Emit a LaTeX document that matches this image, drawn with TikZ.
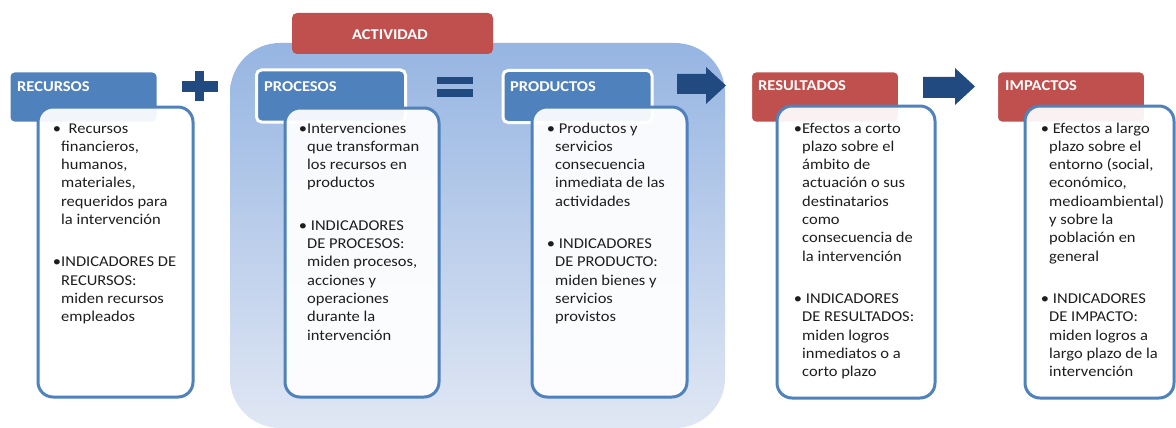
\documentclass[tikz,border=0pt]{standalone}
\usepackage{fontspec}
\setmainfont{Carlito}[FakeStretch=1.1]
\usetikzlibrary{calc}
\definecolor{hblue}{RGB}{79,129,189}
\definecolor{hred}{RGB}{192,80,77}
\definecolor{dblue}{RGB}{33,74,128}
\definecolor{bgtop}{RGB}{150,181,226}
\definecolor{bgbot}{RGB}{224,231,244}
\definecolor{txt}{RGB}{30,30,30}
\newcommand\bl{\leavevmode\llap{\textbullet}}
\tikzset{
  hdr/.style={draw=white, line width=3pt, rounded corners=5pt, minimum width=149pt, minimum height=52pt, inner sep=0pt},
  hblue/.style={hdr, fill=hblue},
  hred/.style={hdr, fill=hred},
  hlabel/.style={anchor=base west, inner sep=0pt, text=white, font=\fontsize{15}{18}\selectfont\bfseries},
  bodybox/.style={draw=hblue, line width=3pt, rounded corners=15pt, fill=white, fill opacity=0.93, inner sep=0pt},
  bodytext/.style={anchor=base west, inner sep=0pt, text=txt, font=\fontsize{15}{18.3}\selectfont},
  sym/.style={fill=dblue, draw=none}
}
\begin{document}
\begin{tikzpicture}[x=1pt,y=-1pt]
\useasboundingbox (0,0) rectangle (1176,428);
% actividad background
\node[shade, top color=bgtop, bottom color=bgbot, rounded corners=50pt, minimum width=495pt, minimum height=385pt, inner sep=0pt] (actbg) at (477.5,235.5) {};
\node[fill=hred, rounded corners=5pt, minimum width=201pt, minimum height=41pt, inner sep=0pt] (act) at (392.5,33.5) {};
\node[hlabel, anchor=base] (actl) at (390,39.5) {ACTIVIDAD};
% headers
\node[hblue] (h1) at (83.5,97) {};
\node[hblue] (h2) at (331,96) {};
\node[hblue] (h3) at (577.5,96.5) {};
\node[hred] (h4) at (825,97) {};
\node[hred] (h5) at (1071,97) {};
\node[hlabel] (l1) at (17,92) {RECURSOS};
\node[hlabel] (l2) at (264,92) {PROCESOS};
\node[hlabel] (l3) at (510,92) {PRODUCTOS};
\node[hlabel] (l4) at (758,91) {RESULTADOS};
\node[hlabel] (l5) at (1005,91) {IMPACTOS};
% bodies
\node[bodybox, minimum width=155pt, minimum height=290pt] (b1) at (115.5,252) {};
\node[bodybox, minimum width=154pt, minimum height=289pt] (b2) at (362,252.5) {};
\node[bodybox, minimum width=155pt, minimum height=290pt] (b3) at (609.5,252) {};
\node[bodybox, minimum width=158pt, minimum height=292pt] (b4) at (856,252) {};
\node[bodybox, minimum width=149pt, minimum height=292pt] (b5) at (1099.5,252) {};
% symbols
\fill[sym] (182,81) rectangle (218,92);
\fill[sym] (195,71) rectangle (204,101);
\fill[sym] (437,77) rectangle (473,84);
\fill[sym] (437,89) rectangle (473,97);
\fill[sym] (677,74) -- (706,74) -- (706,67) -- (726,85.5) -- (706,104) -- (706,94) -- (677,94) -- cycle;
\fill[sym] (923,77) -- (955,77) -- (955,68) -- (975,86.5) -- (955,105) -- (955,98) -- (923,98) -- cycle;
% texts
\node[bodytext] (t1) at (61,133) {\parbox[t]{130pt}{\raggedright
\bl\ \ Recursos\\ financieros,\\ humanos,\\ materiales,\\ requeridos para\\ la intervención\\[24pt]
\bl INDICADORES DE\\ RECURSOS:\\ miden recursos\\ empleados}};
\node[bodytext] (t2) at (307,133) {\parbox[t]{130pt}{\raggedright
\bl Intervenciones\\ que transforman\\ los recursos en\\ productos\\[24pt]
\bl\ INDICADORES\\ DE PROCESOS:\\ miden procesos,\\ acciones y\\ operaciones\\ durante la\\ intervención}};
\node[bodytext] (t3) at (555,133) {\parbox[t]{130pt}{\raggedright
\bl\ Productos y\\ servicios\\ consecuencia\\ inmediata de las\\ actividades\\[24pt]
\bl\ INDICADORES\\ DE PRODUCTO:\\ miden bienes y\\ servicios\\ provistos}};
\node[bodytext] (t4) at (802,133) {\parbox[t]{130pt}{\raggedright
\bl Efectos a corto\\ plazo sobre el\\ ámbito de\\ actuación o sus\\ destinatarios\\ como\\ consecuencia de\\ la intervención\\[24pt]
\bl\ INDICADORES\\ DE RESULTADOS:\\ miden logros\\ inmediatos o a\\ corto plazo}};
\node[bodytext] (t5) at (1049,133) {\parbox[t]{125pt}{\raggedright
\bl\ Efectos a largo\\ plazo sobre el\\ entorno (social,\\ económico,\\ medioambiental)\\ y sobre la\\ población en\\ general\\[24pt]
\bl\ INDICADORES\\ DE IMPACTO:\\ miden logros a\\ largo plazo de la\\ intervención}};
\end{tikzpicture}
\end{document}
